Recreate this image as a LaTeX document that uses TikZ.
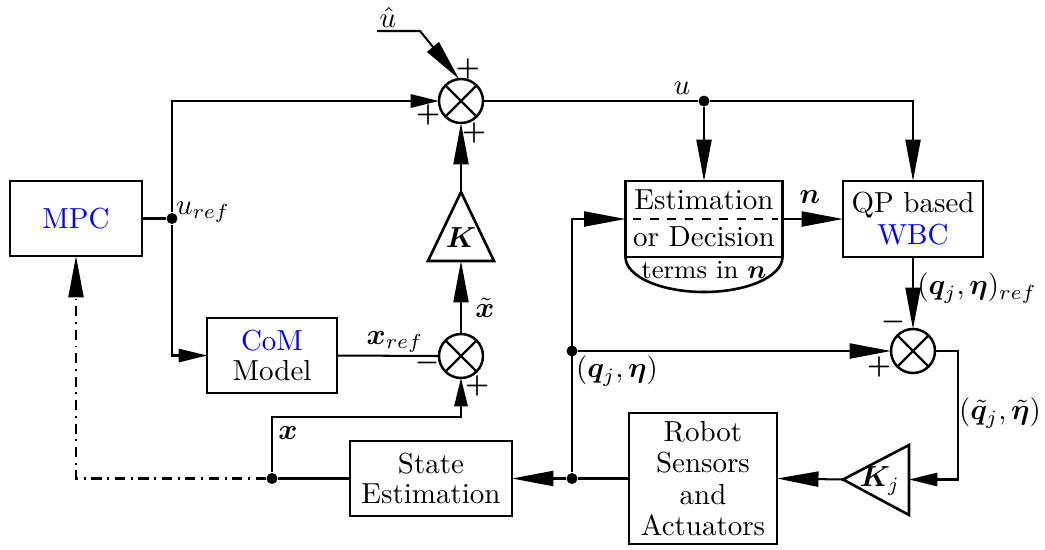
\documentclass[tikz,border=0pt]{standalone}
\usepackage{bm}
\usetikzlibrary{arrows.meta,calc}
\newcommand\pxu{0.345pt}
\begin{document}
\begin{tikzpicture}[x=\pxu,y=-\pxu,
  blk/.style={draw,line width=0.9pt,inner sep=0pt,outer sep=0pt,align=center,font=\fontsize{10}{10.6}\selectfont},
  sumj/.style={draw,circle,line width=0.85pt,minimum size=44*\pxu,inner sep=0pt,outer sep=0pt,
    path picture={\draw[line width=0.75pt] (path picture bounding box.north west) -- (path picture bounding box.south east)
      (path picture bounding box.north east) -- (path picture bounding box.south west);}},
  conn/.style={line width=0.7pt},
  arr/.style={conn,-{Triangle[length=14.3pt,width=5.2pt]}},
  sarr/.style={conn,-{Triangle[length=9.8pt,width=4.6pt]}},
  dot/.style={circle,fill,inner sep=0pt,minimum size=11*\pxu},
  sgn/.style={font=\small,inner sep=0pt},
  tri/.style={line width=0.9pt,line join=miter},
  lbl/.style={inner sep=1pt}]
\useasboundingbox (0,0) rectangle (1045,549);
% blocks
\node[blk,minimum width=132*\pxu,minimum height=75*\pxu] (mpc) at (76,218.5) {\textcolor{blue}{MPC}};
\node[blk,minimum width=130*\pxu,minimum height=75*\pxu] (com) at (272,355.5) {\textcolor{blue}{CoM}\\Model};
\node[blk,minimum width=162*\pxu,minimum height=75*\pxu] (se) at (431,478.5) {State\\Estimation};
\node[blk,minimum width=148*\pxu,minimum height=131*\pxu,font=\fontsize{10}{10.8}\selectfont] (rob) at (703,478.5) {Robot\\Sensors\\and\\Actuators};
\node[blk,minimum width=140*\pxu,minimum height=76*\pxu,font=\fontsize{10}{11}\selectfont] (wbc) at (913,219) {QP based\\\textcolor{blue}{WBC}};
\node[blk,minimum width=157*\pxu,minimum height=76*\pxu] (est) at (704,219) {};
\node (estA) at (704,200) {Estimation};
\node (estB) at (704,237) {or Decision};
\node[font=\small] (estC) at (704,270) {terms in $\bm{n}$};
\draw[dashed,line width=0.6pt] ($(est.west)+(7,0)$) -- ($(est.east)+(-5,0)$);
\draw[line width=0.9pt] (est.south west) arc[start angle=180,end angle=0,x radius=78.5,y radius=35];
% summing junctions
\node[sumj] (s1) at (461,101) {};
\node[sumj] (s2) at (461,356) {};
\node[sumj] (s3) at (913,351) {};
% gains
\coordinate (Ka) at (461,192);
\coordinate (Kl) at (428,261);
\coordinate (Kr) at (494,261);
\coordinate (Kb) at (461,261);
\draw[tri] (Ka) -- (Kl) -- (Kr) -- cycle;
\node (Kt) at (461,238) {$\bm{K}$};
\coordinate (Kjt) at (843,479.5);
\coordinate (Kjtop) at (909,445);
\coordinate (Kjbot) at (909,515);
\coordinate (Kjr) at (909,479.5);
\draw[tri] (Kjt) -- (Kjtop) -- (Kjbot) -- cycle;
\node (Kjl) at (880,481) {$\bm{K}_j$};
% dots
\node[dot] (dU) at (172,218.5) {};
\node[dot] (dA) at (704,101) {};
\node[dot] (dB) at (572,478.5) {};
\node[dot] (dC) at (572,351) {};
\node[dot] (dX) at (272,478.5) {};
\coordinate (uh0) at (377,31);
\coordinate (uh1) at (420,31);
\coordinate (rc) at (958,479.5);
\coordinate (xc) at (461,417);
% connectors
\draw[conn] (mpc.east) -- (dU);
\draw[sarr] (dU) |- (s1.west);
\draw[sarr] (dU) |- (com.west);
\draw[arr] (uh0) -- (uh1) -- (s1.95);
\draw[conn] (s1.east) -- (dA);
\draw[arr] (dA) -| (wbc.north);
\draw[arr] (dA) -- (est.north);
\draw[arr] (est.east) -- (wbc.west);
\draw[arr] (wbc.south) -- (s3.north);
\draw[arr] (dB) |- (est.west);
\draw[arr] (dC) -- (s3.west);
\draw[sarr] (s3.east) -| (rc) -- (Kjr);
\draw[arr] (Kjt) -- (rob.east);
\draw[conn] (rob.west) -- (dB);
\draw[arr] (dB) -- (se.east);
\draw[conn] (se.west) -- (dX);
\draw[sarr] (dX) |- (xc) -- (s2.south);
\draw[arr,dash pattern=on 3.5pt off 2pt on 0.6pt off 2pt] (dX) -| (mpc.south);
\draw[conn] (com.east) -- (s2.west);
\draw[arr] (s2.north) -- (Kb);
\draw[arr] (Ka) -- (s1.south);
% labels
\node[lbl] (luref) at (203,212) {$u_{ref}$};
\node[lbl] (luh) at (388,17) {$\hat{u}$};
\node[lbl] (lu) at (682,88) {$u$};
\node[lbl] (ln) at (810,197) {$\bm{n}$};
\node[lbl] (lqr) at (977,288) {$(\bm{q}_j,\bm{\eta})_{ref}$};
\node[lbl] (lq) at (617,371) {$(\bm{q}_j,\bm{\eta})$};
\node[lbl] (lqt) at (1000,413) {$(\tilde{\bm{q}}_j,\tilde{\bm{\eta}})$};
\node[lbl] (lxt) at (485,308) {$\tilde{\bm{x}}$};
\node[lbl] (lxr) at (395,342) {$\bm{x}_{ref}$};
\node[lbl] (lx) at (288,433) {$\bm{x}$};
% signs
\node[sgn] (p1a) at (468,69) {$\bm{+}$};
\node[sgn] (p1b) at (428,115) {$\bm{+}$};
\node[sgn] (p1c) at (474,133) {$\bm{+}$};
\node[sgn] (m2) at (427,363) {$\bm{-}$};
\node[sgn] (p2) at (477,386) {$\bm{+}$};
\node[sgn] (m3) at (893,322) {$\bm{-}$};
\node[sgn] (p3) at (879,367) {$\bm{+}$};
\end{tikzpicture}
\end{document}
